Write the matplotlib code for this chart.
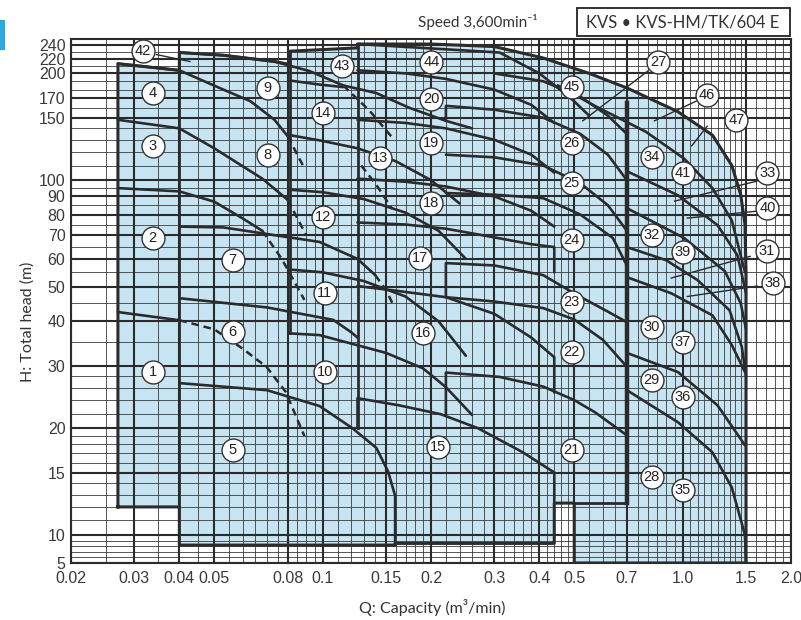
import matplotlib
matplotlib.use('Agg')
import matplotlib.pyplot as plt
from matplotlib.patches import Polygon, Rectangle
from matplotlib.ticker import NullLocator
import numpy as np

plt.rcParams.update({'font.family': ['Liberation Sans', 'DejaVu Sans'], 'font.size': 11})

DARK = '#2b2b2b'
BLUE = '#c6e4f2'

# axis ticks
x_ticks = [0.02, 0.03, 0.04, 0.05, 0.08, 0.1, 0.15, 0.2, 0.3, 0.4, 0.5, 0.7, 1.0, 1.5, 2.0]
x_labels = ['0.02', '0.03', '0.04', '0.05', '0.08', '0.1', '0.15', '0.2', '0.3', '0.4',
            '0.5', '0.7', '1.0', '1.5', '2.0']
y_ticks = [5, 10, 15, 20, 30, 40, 50, 60, 70, 80, 90, 100, 150, 170, 200, 220, 240]

# pump curves, (Q m3/min, H m)
group1 = [
    [(0.027, 42.5), (0.04, 40.3)],
    [(0.027, 95), (0.04, 93), (0.05, 87), (0.06, 78), (0.068, 72)],
    [(0.027, 148), (0.04, 140), (0.05, 123), (0.068, 101), (0.08, 88)],
    [(0.027, 213), (0.04, 204), (0.053, 180), (0.063, 167), (0.0735, 148), (0.08, 133)],
]
group1_dashed = [
    [(0.04, 40.3), (0.05, 38), (0.06, 33.5), (0.07, 29.7), (0.079, 25.3), (0.089, 19)],
    [(0.068, 72), (0.077, 60), (0.089, 46)],
    [(0.08, 88), (0.09, 70)],
    [(0.08, 133), (0.089, 108)],
]
group2 = [
    [(0.04, 26.8), (0.07, 25.6), (0.098, 23.1), (0.121, 20), (0.141, 17.6), (0.152, 15.1),
     (0.159, 12.9), (0.159, 8.2)],
    [(0.04, 46.5), (0.07, 43.8), (0.107, 40.4), (0.12, 37.3), (0.125, 36)],
    [(0.04, 74), (0.053, 73.6), (0.0735, 70), (0.098, 67), (0.125, 60), (0.14, 54)],
    [(0.04, 229), (0.053, 225), (0.0735, 216), (0.092, 203), (0.114, 185), (0.141, 176),
     (0.174, 160), (0.22, 147), (0.26, 140)],
]
group2_dashed = [
    [(0.14, 54), (0.15, 49), (0.158, 44)],
    [(0.114, 185), (0.135, 157), (0.158, 130)],
    [(0.128, 110), (0.141, 97), (0.156, 83)],
]
group3 = [
    [(0.081, 37), (0.098, 36.6), (0.15, 32.6), (0.19, 29.5), (0.22, 26.1), (0.26, 21.8)],
    [(0.081, 56), (0.10, 55), (0.13, 52), (0.17, 47), (0.21, 40), (0.25, 32)],
    [(0.081, 94), (0.10, 92.5), (0.13, 88.5), (0.17, 81), (0.21, 72), (0.25, 60)],
    [(0.081, 134), (0.10, 129), (0.125, 123), (0.16, 113), (0.20, 100), (0.24, 86)],
    [(0.081, 191), (0.098, 186), (0.114, 183)],
]
group4 = [
    [(0.125, 20), (0.125, 24.3), (0.163, 23.2), (0.213, 21.9), (0.27, 20), (0.36, 17.1),
     (0.44, 15), (0.44, 12.3)],
    [(0.125, 50.3), (0.16, 48.8), (0.22, 46.8), (0.30, 42), (0.38, 36), (0.44, 31.7), (0.44, 25.2)],
    [(0.125, 76), (0.17, 75), (0.22, 73), (0.30, 69), (0.38, 66), (0.44, 64.8), (0.44, 55)],
    [(0.125, 101), (0.17, 99), (0.22, 96), (0.30, 90), (0.38, 82), (0.44, 74)],
    [(0.125, 148), (0.17, 145), (0.22, 140), (0.30, 130), (0.38, 118), (0.44, 105)],
    [(0.125, 204), (0.17, 200), (0.22, 193), (0.30, 180), (0.38, 163), (0.44, 145)],
    [(0.125, 242), (0.164, 238), (0.31, 229), (0.40, 200), (0.49, 170), (0.55, 152)],
]
group5 = [
    [(0.22, 21.9), (0.22, 28.7), (0.31, 27.9), (0.41, 26.2), (0.50, 24), (0.57, 22.2), (0.70, 19.1)],
    [(0.22, 46.8), (0.30, 45.5), (0.41, 43.6), (0.50, 40.5), (0.60, 35.5), (0.70, 29.8)],
    [(0.22, 46.8), (0.22, 58.4), (0.30, 57.5), (0.41, 54), (0.51, 47.4), (0.61, 43), (0.70, 39.8)],
    [(0.22, 92), (0.30, 91), (0.41, 89), (0.52, 80), (0.64, 68.7), (0.70, 57.5)],
    [(0.22, 118), (0.30, 116), (0.41, 110), (0.52, 98), (0.62, 85), (0.70, 72)],
    [(0.22, 147), (0.22, 162), (0.30, 158), (0.41, 150), (0.52, 135), (0.62, 118), (0.70, 100)],
    [(0.30, 200), (0.41, 190), (0.52, 172), (0.62, 152), (0.70, 135)],
]
group6 = [
    [(0.70, 25.6), (0.97, 20.8), (1.21, 17.1), (1.37, 13.6), (1.49, 10), (1.5, 5)],
    [(0.70, 32.6), (0.97, 28.8), (1.25, 23.2), (1.49, 17.9)],
    [(0.70, 53.3), (0.93, 48), (1.21, 41.6), (1.37, 34.3), (1.49, 28.8)],
    [(0.70, 64.8), (0.90, 59.5), (1.10, 52.3), (1.35, 43), (1.46, 33.9), (1.5, 28)],
    [(0.70, 83.4), (1.01, 68.7), (1.31, 55.4), (1.45, 45), (1.5, 38)],
    [(0.70, 106), (0.97, 90.7), (1.25, 74.7), (1.42, 61.4), (1.5, 48)],
    [(0.45, 185), (0.57, 162), (0.79, 137), (1.01, 115), (1.21, 95), (1.37, 77), (1.49, 55)],
]

# outer boundary of the selection area
outline = [(0.027, 12), (0.027, 213), (0.04, 204), (0.04, 229), (0.053, 225), (0.0735, 216),
           (0.081, 212), (0.081, 231), (0.125, 236), (0.125, 242), (0.20, 242), (0.30, 238),
           (0.41, 221), (0.55, 200), (0.70, 182), (0.97, 156), (1.21, 134), (1.37, 110),
           (1.45, 91), (1.49, 75), (1.5, 55), (1.5, 5), (0.5, 5), (0.5, 12.3), (0.44, 12.3),
           (0.44, 8.5), (0.159, 8.5), (0.159, 8.2), (0.04, 8.2), (0.04, 12), (0.027, 12)]
edges = [
    [(0.04, 12), (0.04, 229)],
    [(0.081, 37), (0.081, 231)],
    [(0.125, 20), (0.125, 242)],
    [(0.5, 12.3), (0.7, 12.3)],
]
wall = [(0.7, 12.3), (0.7, 165)]

# circled model numbers 1..47
label_q = [0.0337, 0.0337, 0.0337, 0.0337, 0.0562, 0.0562, 0.0562, 0.0704, 0.0704, 0.1013,
           0.1013, 0.1, 0.144, 0.1, 0.2086, 0.1896, 0.186, 0.2006, 0.2006, 0.2006,
           0.492, 0.492, 0.492, 0.492, 0.492, 0.492, 0.854, 0.82, 0.82, 0.82,
           1.71, 0.82, 1.72, 0.82, 1.0, 1.0, 1.0, 1.778, 1.0, 1.72,
           1.0, 0.0316, 0.113, 0.2006, 0.492, 1.17, 1.41]
label_h = [28.8, 68.7, 124.7, 175.7, 17.4, 37.3, 59.5, 117.6, 181.6, 28.8,
           48, 78.7, 115.3, 154.4, 17.7, 37, 60.2, 86.1, 127.1, 169.1,
           17.4, 32.8, 45.3, 67.7, 98.1, 127.2, 214.9, 14.6, 27.3, 38.6,
           63.1, 70.0, 104.6, 116, 13.4, 24.5, 35.0, 51.3, 62.7, 83.4,
           104.6, 232, 209.6, 215, 182.9, 173.6, 148.1]
leaders = [
    [(0.0345, 226), (0.0428, 216)],
    [(0.80, 203), (0.528, 147)],
    [(1.09, 167), (0.835, 147)],
    [(1.17, 142), (1.06, 125)],
    [(1.61, 99.4), (0.95, 87.3)],
    [(1.61, 81.8), (1.03, 78.2)],
    [(1.54, 61), (0.93, 53)],
    [(1.61, 50.3), (1.03, 47)],
]

# y axis: log above 10 m, squeezed strip from 5 to 10 m
SQUEEZE = 28 / 355


def fwd(h):
    h = np.asarray(h, dtype=float)
    return np.where(h >= 10, np.log10(np.clip(h, 10, None)), 1 - (10 - h) / 5 * SQUEEZE)


def inv(v):
    v = np.asarray(v, dtype=float)
    return np.where(v >= 1, 10 ** np.clip(v, 1, 6), 10 - (1 - v) * 5 / SQUEEZE)


fig = plt.figure(figsize=(8.01, 6.20), dpi=100)
ax = fig.add_axes([71 / 801, 57 / 620, 720 / 801, 524 / 620])
ax.set_xscale('log')
ax.set_yscale('function', functions=(fwd, inv))
ax.set_xlim(0.02, 2.0)
ax.set_ylim(5, 250)

# chart paper grid
xs_minor = np.concatenate([np.arange(0.02, 0.1, 0.005), np.arange(0.1, 0.2, 0.01),
                           np.arange(0.2, 0.5, 0.02), np.arange(0.5, 1.5, 0.05),
                           np.arange(1.5, 2.0, 0.1)])
ys_minor = np.concatenate([np.arange(5, 20, 1), np.arange(20, 30, 2),
                           np.arange(30, 100, 5), np.arange(100, 250, 10)])
ax.vlines(xs_minor, 5, 250, color='#3a3a3a', lw=0.6, zorder=2)
ax.hlines(ys_minor, 0.02, 2.0, color='#3a3a3a', lw=0.6, zorder=2)
ax.vlines(x_ticks, 5, 250, color=DARK, lw=1.5, zorder=2)
ax.hlines(y_ticks, 0.02, 2.0, color=DARK, lw=1.5, zorder=2)

ax.add_patch(Polygon(outline, closed=True, fc=BLUE, ec='none', zorder=1))
ax.plot(*zip(*outline), color=DARK, lw=2.2, zorder=3)
for e in edges:
    ax.plot(*zip(*e), color=DARK, lw=2.0, zorder=3)
ax.plot(*zip(*wall), color=DARK, lw=3.2, zorder=3)

for grp in [group1, group2, group3, group4, group5, group6]:
    for c in grp:
        ax.plot(*zip(*c), color=DARK, lw=1.9, solid_capstyle='round', zorder=4)
for grp in [group1_dashed, group2_dashed]:
    for c in grp:
        ax.plot(*zip(*c), color=DARK, lw=1.8, ls=(0, (3, 2)), zorder=4)

for ld in leaders:
    ax.plot(*zip(*ld), color=DARK, lw=1.0, zorder=5)
for n, (q, h) in enumerate(zip(label_q, label_h), start=1):
    ax.plot(q, h, 'o', ms=16.5, mfc='white', mec='#333333', mew=1.0, zorder=6)
    ax.text(q, h, str(n), ha='center', va='center', fontsize=10.5, color='#222222', zorder=7)

ax.set_xticks(x_ticks)
ax.set_xticklabels(x_labels)
ax.set_yticks(y_ticks)
ax.set_yticklabels([str(v) for v in y_ticks])
ax.xaxis.set_minor_locator(NullLocator())
ax.yaxis.set_minor_locator(NullLocator())
ax.tick_params(length=0, labelsize=11.5, colors='#3a3a3a')
ax.tick_params(axis='x', pad=6)
ax.tick_params(axis='y', pad=4)
for s in ax.spines.values():
    s.set_linewidth(1.5)
    s.set_color(DARK)

txt = ['Lato', 'DejaVu Sans']
fig.text(478 / 801, 1 - 22 / 620, 'Speed 3,600min⁻¹', ha='center', va='center',
         fontsize=11, color='#333333', family=txt)
fig.add_artist(Rectangle((577 / 801, 1 - 36 / 620), 213 / 801, 28 / 620,
                         transform=fig.transFigure, fill=False, ec='#222222', lw=1.3))
fig.text(683 / 801, 1 - 22 / 620, 'KVS • KVS-HM/TK/604 E', ha='center', va='center',
         fontsize=12, color='#333333', family=txt)
fig.text(28 / 801, 1 - 322 / 620, 'H: Total head (m)', rotation=90, ha='center', va='center',
         fontsize=11.5, color='#333333', family=txt)
fig.text(432 / 801, 1 - 607 / 620, 'Q: Capacity (m³/min)', ha='center', va='center',
         fontsize=11.5, color='#333333', family=txt)
fig.add_artist(Rectangle((0, 1 - 50 / 620), 5 / 801, 30 / 620, transform=fig.transFigure,
                         fc='#2aa8e0', ec='none'))

fig.savefig('out.png', dpi=100)
